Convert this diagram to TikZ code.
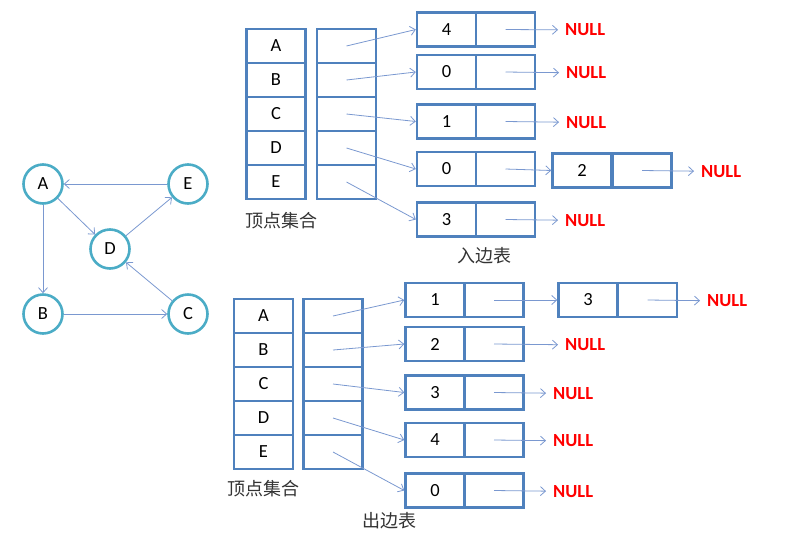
\documentclass[tikz,border=0pt]{standalone}
\usepackage{fontspec}
\setmainfont{Carlito}
\newfontfamily\cjk{Noto Sans CJK SC}
\usetikzlibrary{arrows.meta}
\definecolor{boxblue}{RGB}{79,129,189}
\definecolor{linkblue}{RGB}{122,152,208}
\definecolor{ringteal}{RGB}{75,172,198}
\definecolor{nullred}{RGB}{255,0,0}
\tikzset{
  every picture/.style={font=\fontsize{18.5}{20}\selectfont},
  vertex/.style={circle,draw=ringteal,line width=2.6pt,minimum size=39pt,inner sep=0pt},
  edge/.style={draw=linkblue,line width=0.8pt,-{Straight Barb[length=5pt,width=9pt]}},
  cell/.style={draw=boxblue,line width=2.4pt,minimum width=59pt,minimum height=34pt,inner sep=0pt},
  nullnode/.style={anchor=west,text=nullred,font=\fontsize{18.5}{20}\selectfont\bfseries,inner xsep=7pt,inner ysep=0pt},
  caption/.style={font=\cjk\fontsize{18}{20}\selectfont,text=black!80},
}

\begin{document}
\begin{tikzpicture}[x=1pt,y=-1pt]
  \useasboundingbox (0,0) rectangle (812,539);
  % graph
  \node[vertex] (A) at (43,184) {A};
  \node[vertex] (E) at (188,184) {E};
  \node[vertex] (D) at (110,249) {D};
  \node[vertex] (B) at (43,314) {B};
  \node[vertex] (C) at (188,314) {C};
  \draw[edge] (E) -- (A);
  \draw[edge] (A) -- (D);
  \draw[edge] (A) -- (B);
  \draw[edge] (B) -- (C);
  \draw[edge] (C) -- (D);
  \draw[edge] (D) -- (E);
  % in-edge table: vertex set
  \foreach \v [count=\i] in {A,B,C,D,E} {
    \node[cell] (tv\v) at (276,{12+34*\i}) {\v};
    \node[cell] (th\v) at (346.5,{12+34*\i}) {};
  }
  \node[caption] (topset) at (281,221) {顶点集合};
  % in-edge lists
  \node[cell] (inA) at (446.5,29.5) {4};
  \node[cell] (inAp) at (505.5,29.5) {};
  \node[nullnode] (inAnull) at (558,30) {NULL};
  \node[cell] (inB) at (446.5,72) {0};
  \node[cell] (inBp) at (505.5,72) {};
  \node[nullnode] (inBnull) at (559,73) {NULL};
  \node[cell] (inC) at (446.5,121.5) {1};
  \node[cell] (inCp) at (505.5,121.5) {};
  \node[nullnode] (inCnull) at (559,122.5) {NULL};
  \node[cell] (inD) at (446.5,169) {0};
  \node[cell] (inDp) at (505.5,169) {};
  \node[cell] (inD2) at (582,170.5) {2};
  \node[cell] (inD2p) at (642,170.5) {};
  \node[nullnode] (inDnull) at (694,171.5) {NULL};
  \node[cell] (inE) at (446.5,219.5) {3};
  \node[cell] (inEp) at (505.5,219.5) {};
  \node[nullnode] (inEnull) at (558,220.5) {NULL};
  \node[caption] (inlist) at (484,256) {入边表};
  \foreach \v in {A,B,C,D,E}
    \draw[edge] (th\v.center) -- (in\v.west);
  \draw[edge] (inAp.center) -- (inAnull);
  \draw[edge] (inBp.center) -- (inBnull);
  \draw[edge] (inCp.center) -- (inCnull);
  \draw[edge] (inDp.center) -- (inD2.west);
  \draw[edge] (inD2p.center) -- (inDnull);
  \draw[edge] (inEp.center) -- (inEnull);
  % out-edge table: vertex set
  \foreach \v [count=\i] in {A,B,C,D,E} {
    \node[cell] (bv\v) at (263.5,{282+34*\i}) {\v};
    \node[cell] (bh\v) at (333,{282+34*\i}) {};
  }
  \node[caption] (botset) at (263,489) {顶点集合};
  % out-edge lists
  \node[cell] (outA) at (435,300) {1};
  \node[cell] (outAp) at (494,300) {};
  \node[cell] (outA2) at (588,300) {3};
  \node[cell] (outA2p) at (647.5,300) {};
  \node[nullnode] (outAnull) at (700,301) {NULL};
  \node[cell] (outB) at (435,344) {2};
  \node[cell] (outBp) at (494,344) {};
  \node[nullnode] (outBnull) at (558,345) {NULL};
  \node[cell] (outC) at (435,392.5) {3};
  \node[cell] (outCp) at (494,392.5) {};
  \node[nullnode] (outCnull) at (546,393.5) {NULL};
  \node[cell] (outD) at (435,440) {4};
  \node[cell] (outDp) at (494,440) {};
  \node[nullnode] (outDnull) at (546,441) {NULL};
  \node[cell] (outE) at (435,490.5) {0};
  \node[cell] (outEp) at (494,490.5) {};
  \node[nullnode] (outEnull) at (546,491.5) {NULL};
  \node[caption] (outlist) at (389,521) {出边表};
  \foreach \v in {A,B,C,D,E}
    \draw[edge] (bh\v.center) -- (out\v.west);
  \draw[edge] (outAp.center) -- (outA2.west);
  \draw[edge] (outA2p.center) -- (outAnull);
  \draw[edge] (outBp.center) -- (outBnull);
  \draw[edge] (outCp.center) -- (outCnull);
  \draw[edge] (outDp.center) -- (outDnull);
  \draw[edge] (outEp.center) -- (outEnull);
\end{tikzpicture}
\end{document}
